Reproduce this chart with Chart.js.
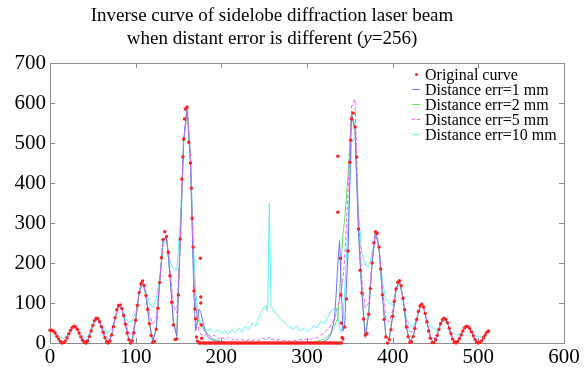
<!DOCTYPE html>
<html lang="en">
<head>
<meta charset="UTF-8">
<title>Inverse curve of sidelobe diffraction laser beam</title>
<script src="https://cdn.jsdelivr.net/npm/chart.js"></script>
<style>
    body { margin: 0; background: #ffffff; }
    #wrap { position: relative; width: 585px; height: 369px; }
    #title {
        position: absolute; left: 0; top: 3px; width: 544px;
        text-align: center; font-family: "Liberation Serif", serif;
        font-size: 19px; line-height: 23px; color: #000;
    }
    #legend {
        position: absolute; left: 412px; top: 67px;
        font-family: "Liberation Serif", serif; font-size: 16px; color: #000;
    }
    .row { display: flex; align-items: center; height: 15px; }
    .mark { width: 8px; margin-right: 5px; height: 0; }
    .dot { width: 3px; height: 3px; border-radius: 50%; background: #ff2020; margin: 0 7px 0 3px; }
</style>
</head>
<body>
<div id="wrap">
    <canvas id="chart" width="585" height="369"></canvas>
    <div id="title">Inverse curve of sidelobe diffraction laser beam<br>when distant error is different (<i>y</i>=256)</div>
    <div id="legend">
        <div class="row"><span class="dot"></span>Original curve</div>
        <div class="row"><span class="mark" style="border-top:1px solid #7070ff"></span>Distance err=1 mm</div>
        <div class="row"><span class="mark" style="border-top:1px solid #60e060"></span>Distance err=2 mm</div>
        <div class="row"><span class="mark" style="border-top:1px dashed #f060f0"></span>Distance err=5 mm</div>
        <div class="row"><span class="mark" style="border-top:1px solid #60f0f0"></span>Distance err=10 mm</div>
    </div>
</div>
<script>
// original curve samples (red dots): every 4th column, the columns in between, then a few off-grid points
const redX = [0,4,8,12,16,20,24,28,32,36,40,44,48,52,56,60,64,68,72,76,80,84,88,92,96,100,104,108,112,116,120,124,128,132,136,140,144,148,152,156,160,164,168,
    172,176,
    180,184,188,192,196,200,204,208,212,216,220,224,228,232,236,240,244,248,252,256,260,264,268,272,276,280,284,288,292,296,300,304,308,312,316,320,324,328,332,
    336,340,
    344,348,352,356,360,364,368,372,376,380,384,388,392,396,400,404,408,412,416,420,424,428,432,436,440,444,448,452,456,460,464,468,472,476,480,484,488,492,496,500,504,508,512,
    2,6,10,14,18,22,26,30,34,38,42,46,50,54,58,62,66,70,74,78,82,86,90,94,98,102,106,110,114,118,122,126,130,134,138,142,146,150,154,158,
    162,166,170,174,
    178,182,186,190,194,198,202,206,210,214,218,222,226,230,234,238,242,246,250,254,258,262,266,270,274,278,282,286,290,294,298,302,306,310,314,318,322,326,330,334,
    338,342,346,350,354,358,362,366,370,374,378,382,386,390,394,398,402,406,410,414,418,422,426,430,434,438,442,446,450,454,458,462,466,470,474,478,482,486,490,494,498,502,506,510,
    155,157,165,167,169,171,175.5,176,176,176.5,177,
    336,336,339,339.5,340,341,351];
const redY = [32,30,17,4,1,13,32,42,34,15,1,5,30,56,61,41,13,0,20,63,94,86,47,8,5,57,126,155,119,48,2,34,151,259,266,168,45,10,260,510,590,450,130,
    5,0,
    0,0,0,0,0,0,0,0,0,0,0,0,0,0,0,0,0,0,0,0,0,0,0,0,0,0,0,0,0,0,0,0,0,0,0,0,0,0,0,
    0,0,
    40,230,560,540,285,125,20,72,200,278,240,120,15,9,67,135,156,112,40,1,16,59,93,90,53,12,1,19,48,62,51,23,2,4,20,38,41,28,9,0,6,20,30,
    32,25,10,0,5,23,39,40,25,7,0,16,44,62,53,27,3,5,41,83,95,69,25,0,25,94,148,144,84,19,4,87,213,278,227,102,9,120,410,585,
    502,312,60,0,
    0,0,0,0,0,0,0,0,0,0,0,0,0,0,0,0,0,0,0,0,0,0,0,0,0,0,0,0,0,0,0,0,0,0,0,0,0,0,0,0,
    0,10,110,452,575,465,182,60,24,136,251,274,185,59,0,33,104,152,143,83,16,3,36,79,97,74,30,1,8,34,58,59,37,10,0,11,30,42,36,18,2,2,13,27,
    465,560,387,240,85,15,212,115,100,45,12,
    467,327,212,120,50,14,507];

// x positions shared by the four reconstructed curves
const lineX = [0,4,8,12,16,20,24,28,32,36,40,44,48,52,56,60,64,68,72,76,80,84,88,92,96,100,104,108,112,116,120,124,128,132,136,140,144,148,152,156,160,164,168,
    170,172,174,176,
    180,184,188,192,196,200,204,208,212,216,220,224,228,232,236,240,244,248,252,
    254,256,258,
    260,264,268,272,276,280,284,288,292,296,300,304,308,312,316,320,324,328,332,
    334,336,338,340,342,
    344,348,352,356,360,364,368,372,376,380,384,388,392,396,400,404,408,412,416,420,424,428,432,436,440,444,448,452,456,460,464,468,472,476,480,484,488,492,496,500,504,508,512];

const err1 = [31,29,17,4,1,13,32,42,34,15,1,5,30,56,61,41,13,1,20,63,94,86,47,9,6,57,126,155,119,49,4,35,150,258,266,170,50,16,255,505,588,448,120,
    30,55,85,78,
    38,16,9,6,4,3,2,1,1,0,0,0,0,0,0,0,0,0,0,
    0,0,0,
    0,0,0,0,0,0,0,0,0,0,0,0,0,1,2,4,9,22,60,
    120,200,256,140,30,
    45,235,570,535,282,125,14,72,200,278,240,120,16,10,67,135,156,112,40,2,16,59,93,90,53,12,1,19,48,62,51,23,2,4,20,38,41,28,9,0,6,20,30];

const err2 = [31,29,17,4,1,13,32,42,34,15,1,5,30,56,61,41,13,1,20,63,94,86,47,9,7,57,125,155,120,50,6,36,150,257,265,172,55,22,250,500,580,455,145,
    95,65,52,46,
    32,22,14,9,6,4,2,1,1,0,0,0,0,0,0,0,0,0,0,
    0,0,0,
    0,0,0,0,0,0,0,0,0,0,1,2,3,5,7,10,16,25,42,
    52,62,120,210,270,
    310,420,575,545,290,130,20,75,200,278,240,122,18,12,67,135,156,112,41,3,17,59,93,90,53,13,2,19,48,62,51,23,2,4,20,38,41,28,9,1,6,20,30];

const err5 = [30,29,18,6,3,14,32,41,34,17,5,8,30,55,60,42,18,10,24,62,92,86,52,24,20,60,124,152,122,70,48,60,150,255,268,185,95,75,250,500,595,470,160,
    95,50,30,22,
    18,25,14,20,10,16,8,14,6,12,5,9,4,8,5,10,6,12,8,
    10,15,8,
    10,6,9,5,8,4,7,5,9,6,10,8,14,12,20,25,35,45,60,
    75,90,110,130,160,
    210,380,590,610,320,160,88,100,210,282,245,140,60,52,80,138,155,115,55,28,30,60,92,90,56,20,10,22,48,62,51,25,6,7,21,38,41,28,10,2,7,20,30];

const err10 = [30,28,21,15,12,18,30,40,34,22,14,16,32,55,58,45,30,26,36,60,88,84,62,52,55,78,122,148,128,100,88,110,160,245,260,205,185,182,300,505,590,470,220,
    130,90,60,48,
    40,30,36,27,33,24,30,22,33,26,38,28,42,33,50,42,65,82,95,
    78,350,92,
    84,74,62,55,46,40,34,44,30,37,28,34,44,38,54,48,64,80,86,
    88,65,40,25,60,
    130,300,500,515,330,225,195,190,225,268,240,155,110,100,95,132,150,112,62,45,40,60,90,88,58,42,36,30,47,60,50,31,22,20,25,37,40,30,19,15,15,21,28];

const xTicks = [0, 600, 100];
const yTicks = [0, 700, 100];

const pts = (xs, ys) => xs.map((x, i) => ({ x: x, y: ys[i] }));

// MATLAB-like box with inward ticks on all four sides, drawn under the data
const frame = {
    id: 'frame',
    beforeDatasetsDraw(chart) {
        const { ctx, chartArea: a, scales } = chart;
        ctx.save();
        ctx.strokeStyle = '#8c8c8c';
        ctx.lineWidth = 1;
        ctx.strokeRect(a.left + 0.5, a.top + 0.5, a.right - a.left, a.bottom - a.top);
        ctx.beginPath();
        scales.x.ticks.forEach(t => {
            const px = Math.round(scales.x.getPixelForValue(t.value)) + 0.5;
            ctx.moveTo(px, a.bottom); ctx.lineTo(px, a.bottom - 5);
            ctx.moveTo(px, a.top); ctx.lineTo(px, a.top + 5);
        });
        scales.y.ticks.forEach(t => {
            const py = Math.round(scales.y.getPixelForValue(t.value)) + 0.5;
            ctx.moveTo(a.left, py); ctx.lineTo(a.left + 5, py);
            ctx.moveTo(a.right, py); ctx.lineTo(a.right - 5, py);
        });
        ctx.stroke();
        ctx.restore();
    }
};

const tickFont = { family: 'Liberation Serif', size: 21 };

new Chart(document.getElementById('chart').getContext('2d'), {
    type: 'scatter',
    data: {
        datasets: [
            { label: 'Original curve', data: pts(redX, redY), showLine: false, clip: false,
              pointRadius: 1.7, pointBorderWidth: 0, pointBackgroundColor: '#ff2020', order: 0 },
            { label: 'Distance err=1 mm', data: pts(lineX, err1), showLine: true,
              borderColor: '#7070ff', borderWidth: 1, pointRadius: 0, order: 2 },
            { label: 'Distance err=2 mm', data: pts(lineX, err2), showLine: true,
              borderColor: '#60e060', borderWidth: 1, pointRadius: 0, order: 3 },
            { label: 'Distance err=5 mm', data: pts(lineX, err5), showLine: true,
              borderColor: '#f060f0', borderWidth: 1, borderDash: [4, 2], pointRadius: 0, order: 1 },
            { label: 'Distance err=10 mm', data: pts(lineX, err10), showLine: true,
              borderColor: '#60f0f0', borderWidth: 1, pointRadius: 0, order: 4 }
        ]
    },
    options: {
        responsive: false,
        animation: false,
        layout: { padding: { top: 63, right: 21, left: 0, bottom: 0 } },
        plugins: { legend: { display: false }, tooltip: { enabled: false }, title: { display: false } },
        scales: {
            x: {
                type: 'linear', min: xTicks[0], max: xTicks[1],
                ticks: { stepSize: xTicks[2], color: '#000', font: tickFont, padding: 2 },
                grid: { display: false, drawTicks: false },
                border: { display: false },
                afterFit: s => { s.height = 26; }
            },
            y: {
                type: 'linear', min: yTicks[0], max: yTicks[1],
                ticks: { stepSize: yTicks[2], color: '#000', font: tickFont, padding: 4 },
                grid: { display: false, drawTicks: false },
                border: { display: false },
                afterFit: s => { s.width = 50; }
            }
        }
    },
    plugins: [frame]
});
</script>
</body>
</html>
